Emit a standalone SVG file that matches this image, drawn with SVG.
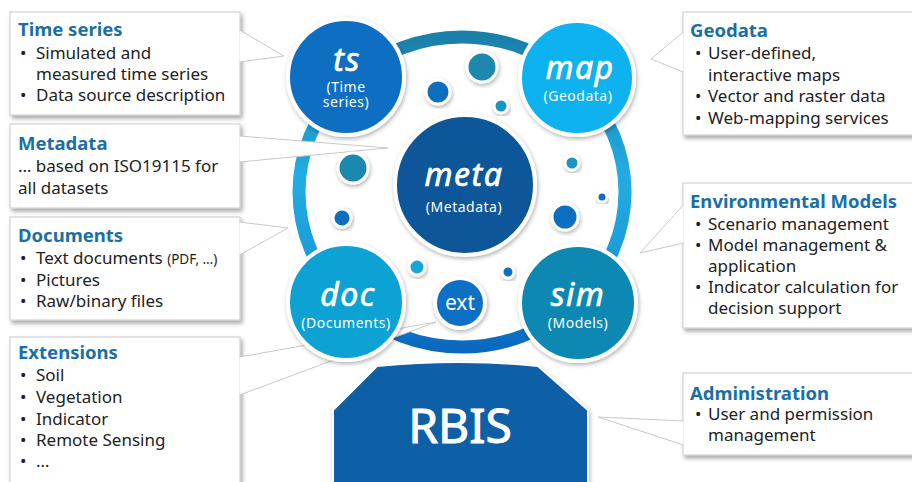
<svg xmlns="http://www.w3.org/2000/svg" width="912" height="482" viewBox="0 0 912 482">
<defs>
<filter id="sh" x="-10%" y="-10%" width="125%" height="130%"><feDropShadow dx="2" dy="3" stdDeviation="2" flood-color="#000" flood-opacity="0.35"/></filter>
<filter id="cs" x="-20%" y="-20%" width="140%" height="140%"><feDropShadow dx="1" dy="2" stdDeviation="2" flood-color="#000" flood-opacity="0.3"/></filter>
<linearGradient id="ring" x1="0" y1="0" x2="0" y2="1">
<stop offset="0" stop-color="#1a80aa"/>
<stop offset="0.45" stop-color="#22ace4"/>
<stop offset="0.75" stop-color="#1a9ad6"/>
<stop offset="1" stop-color="#0a68bf"/>
</linearGradient>
<style>
.box{fill:#fff;stroke:#c9c9c9;stroke-width:1;filter:url(#sh)}
.ptr{fill:#fff;stroke:#c9c9c9;stroke-width:1}
.t{font-family:"Noto Sans","Open Sans","DejaVu Sans",sans-serif;font-size:18.5px;font-weight:bold;fill:#1a6fa6}
.b{font-family:"Noto Sans","Open Sans","DejaVu Sans",sans-serif;font-size:17px;fill:#222}
.c{stroke:#fff;stroke-width:4;filter:url(#cs)}
.bb{stroke:#fff;stroke-width:3;filter:url(#cs)}
.lbl{font-family:"Noto Sans","Open Sans","DejaVu Sans",sans-serif;font-style:italic;font-size:32px;fill:#fff;stroke:#fff;stroke-width:0.7px;text-anchor:middle;letter-spacing:1.5px}
.sub{font-family:"Noto Sans","Open Sans","DejaVu Sans",sans-serif;font-size:14px;fill:#fff;text-anchor:middle;letter-spacing:0.5px}
</style>
</defs>
<rect width="912" height="482" fill="#fff"/>
<g id="ring"><ellipse cx="462" cy="192" rx="163" ry="155" fill="none" stroke="url(#ring)" stroke-width="13"/></g>

<g id="box-timeseries">
<rect class="box" x="10" y="12" width="230" height="103"/>
<text class="t" x="18" y="36">Time series</text>
<text class="b" x="20" y="59">•</text><text class="b" x="36" y="59">Simulated and</text>
<text class="b" x="36" y="80">measured time series</text>
<text class="b" x="20" y="101">•</text><text class="b" x="36" y="101">Data source description</text>
</g>
<g id="box-metadata">
<rect class="box" x="10" y="124" width="230" height="84"/>
<text class="t" x="18" y="150">Metadata</text>
<text class="b" x="18" y="172">… based on ISO19115 for</text>
<text class="b" x="18" y="194">all datasets</text>
</g>
<g id="box-documents">
<rect class="box" x="10" y="217" width="230" height="103"/>
<text class="t" x="18" y="242">Documents</text>
<text class="b" x="20" y="264">•</text><text class="b" x="36" y="264">Text documents <tspan font-size="13.5">(PDF, …)</tspan></text>
<text class="b" x="20" y="286">•</text><text class="b" x="36" y="286">Pictures</text>
<text class="b" x="20" y="307">•</text><text class="b" x="36" y="307">Raw/binary files</text>
</g>
<g id="box-extensions">
<rect class="box" x="10" y="337" width="230" height="160"/>
<text class="t" x="18" y="359">Extensions</text>
<text class="b" x="20" y="381">•</text><text class="b" x="36" y="381">Soil</text>
<text class="b" x="20" y="403">•</text><text class="b" x="36" y="403">Vegetation</text>
<text class="b" x="20" y="425">•</text><text class="b" x="36" y="425">Indicator</text>
<text class="b" x="20" y="446">•</text><text class="b" x="36" y="446">Remote Sensing</text>
<text class="b" x="20" y="467">•</text><text class="b" x="36" y="467">…</text>
</g>
<g id="box-geodata">
<rect class="box" x="683" y="12" width="235" height="123"/>
<text class="t" x="690" y="37">Geodata</text>
<text class="b" x="695" y="59">•</text><text class="b" x="708" y="59">User-defined,</text>
<text class="b" x="708" y="81">interactive maps</text>
<text class="b" x="695" y="102">•</text><text class="b" x="708" y="102">Vector and raster data</text>
<text class="b" x="695" y="124">•</text><text class="b" x="708" y="124">Web-mapping services</text>
</g>
<g id="box-models">
<rect class="box" x="683" y="183" width="235" height="145"/>
<text class="t" x="690" y="208">Environmental  Models</text>
<text class="b" x="695" y="230">•</text><text class="b" x="708" y="230">Scenario management</text>
<text class="b" x="695" y="251">•</text><text class="b" x="708" y="251">Model management &amp;</text>
<text class="b" x="708" y="272">application</text>
<text class="b" x="695" y="293">•</text><text class="b" x="708" y="293">Indicator calculation for</text>
<text class="b" x="708" y="314">decision support</text>
</g>
<g id="box-administration">
<rect class="box" x="683" y="373" width="235" height="82"/>
<text class="t" x="690" y="400">Administration</text>
<text class="b" x="695" y="420">•</text><text class="b" x="708" y="420">User and permission</text>
<text class="b" x="708" y="441">management</text>
</g>

<g id="connectors">
<path class="ptr" d="M239.6,30 L284,56 L239.6,62"/>
<path class="ptr" d="M239.6,136 L388,148 L239.6,162"/>
<path class="ptr" d="M239.6,222 L288,228 L239.6,255"/>
<path class="ptr" d="M239.6,357 L436,322 L239.6,395"/>
<path class="ptr" d="M683.4,32 L651,59 L683.4,72"/>
<path class="ptr" d="M683.4,205 L640,253 L683.4,243"/>
<path class="ptr" d="M683.4,421 L598,417 L683.4,445"/>
</g>

<g id="rbis">
<path d="M377,366 Q460,358 538,366 L588,410 L588,486 L333,486 L333,410 Z" fill="#1160a6" stroke="#fff" stroke-width="2" filter="url(#cs)"/>
<text x="460" y="443" font-family="Noto Sans, Open Sans, DejaVu Sans, sans-serif" font-size="48" fill="#fff" stroke="#fff" stroke-width="1" text-anchor="middle">RBIS</text>
</g>

<g id="bubbles">
<circle class="bb" cx="482" cy="67" r="15" fill="#1a88ae"/>
<circle class="bb" cx="438" cy="92" r="12" fill="#0c6dbf"/>
<circle class="bb" cx="501" cy="106" r="7" fill="#1596c4"/>
<circle class="bb" cx="353" cy="168" r="15" fill="#1a88ae"/>
<circle class="bb" cx="342" cy="218" r="9" fill="#0c6dbf"/>
<circle class="bb" cx="417" cy="267" r="8" fill="#14a6d8"/>
<circle class="bb" cx="508" cy="272" r="6" fill="#0c6dbf"/>
<circle class="bb" cx="572" cy="163" r="7" fill="#1a94c0"/>
<circle class="bb" cx="602" cy="197" r="5" fill="#0c6dbf"/>
<circle class="bb" cx="565" cy="217" r="13" fill="#0c6dbf"/>
</g>

<g id="node-ts">
<circle class="c" cx="346" cy="77" r="58" fill="#0c6ec2"/>
<text class="lbl" x="347" y="71">ts</text>
<text class="sub" x="346" y="92">(Time</text>
<text class="sub" x="346" y="107">series)</text>
</g>
<g id="node-map">
<circle class="c" cx="577" cy="78" r="57" fill="#0cb2ee"/>
<text class="lbl" x="580" y="79">map</text>
<text class="sub" x="578" y="101">(Geodata)</text>
</g>
<g id="node-meta">
<circle class="c" cx="465" cy="185" r="70" fill="#0a5699"/>
<text class="lbl" x="464" y="186">meta</text>
<text class="sub" x="464" y="212">(Metadata)</text>
</g>
<g id="node-doc">
<circle class="c" cx="346" cy="302" r="58" fill="#0fa2d4"/>
<text class="lbl" x="348" y="306">doc</text>
<text class="sub" x="346" y="328">(Documents)</text>
</g>
<g id="node-sim">
<circle class="c" cx="578" cy="303" r="58" fill="#0b88b2"/>
<text class="lbl" x="578" y="306">sim</text>
<text class="sub" x="578" y="328">(Models)</text>
</g>
<g id="node-ext">
<circle class="c" cx="460" cy="303" r="25" fill="#0c70c4"/>
<text x="460" y="310" font-family="Noto Sans, Open Sans, DejaVu Sans, sans-serif" font-size="21" fill="#fff" text-anchor="middle">ext</text>
</g>
</svg>
